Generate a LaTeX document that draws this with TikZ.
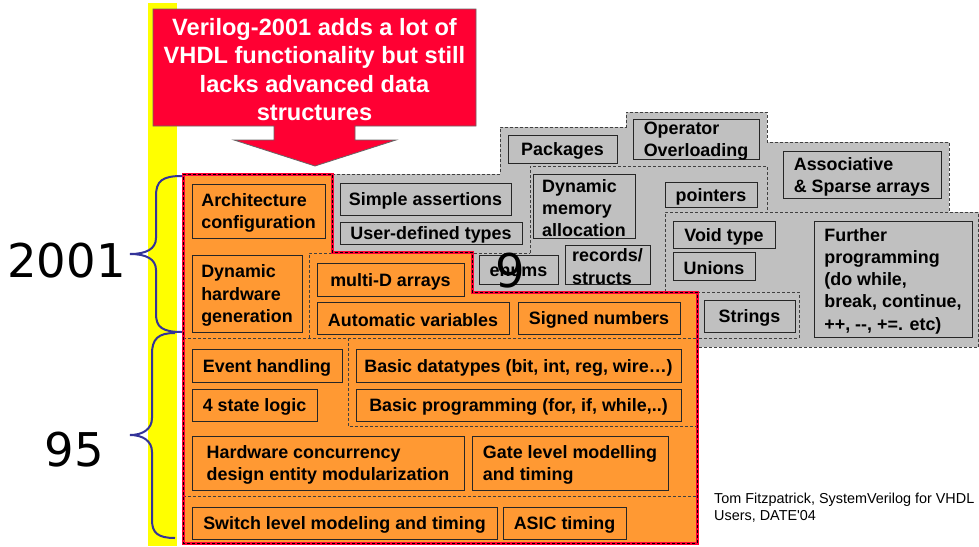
\documentclass[tikz,border=0pt]{standalone}
\usepackage{fontspec}
\setsansfont{Liberation Sans}
\newfontfamily\digitfont{DejaVu Sans}
\definecolor{boxorange}{HTML}{FF9933}
\definecolor{boxgray}{HTML}{C0C0C0}
\definecolor{calloutred}{HTML}{FF0033}
\definecolor{bracecol}{HTML}{333399}
\definecolor{stripyellow}{HTML}{FFFF00}

\tikzset{
  feat/.style={draw=black!85, line width=0.9pt, inner sep=0pt, align=left,
    font=\sffamily\bfseries\fontsize{17.9}{22.2}\selectfont, text=black},
  ofeat/.style={feat, fill=boxorange},
  gfeat/.style={feat, fill=boxgray},
  grp/.style={draw=black!75, line width=0.8pt, dash pattern=on 3pt off 2pt},
  curly/.style={draw=bracecol, line width=2pt},
  bignum/.style={font=\digitfont\fontsize{46.5}{46.5}\selectfont, anchor=base, inner sep=0pt},
}

% feature box from its corners: name, style, x1, y1, x2, y2, text
% (the frame is drawn separately so the label can sit a little lower)
\newcommand\featbox[7]{%
  \path[#2, fill, draw] (#3,#4) rectangle (#5,#6);
  \node[#2, draw=none, fill=none, anchor=center] (#1)
    at ({(#3+#5)/2},{(#4+#6)/2+2}) {#7};}

\begin{document}
\begin{tikzpicture}[x=1pt,y=-1pt]
\useasboundingbox (0,0) rectangle (979,546);
\fill[white] (0,0) rectangle (979,546);

% yellow strip
\fill[stripyellow] (148,3) rectangle (177,546);

% grey SystemVerilog area
\fill[boxgray] (332,174) -- (500,174) -- (500,127) -- (626,127) -- (626,112)
  -- (767,112) -- (767,142) -- (949,142) -- (949,212) -- (979,212)
  -- (979,347) -- (697,347) -- (697,292) -- (472,292) -- (472,252)
  -- (332,252) -- cycle;
\draw[grp] (332,174) -- (500,174) -- (500,127) -- (626,127) -- (626,112)
  -- (767,112) -- (767,142) -- (949,142) -- (949,212) -- (978.5,212)
  -- (978.5,347) -- (697,347);
\draw[grp] (530,253) -- (530,166) -- (767,166) -- (767,212);
\draw[grp] (665,292) -- (665,212) -- (949,212);
\draw[grp] (697,292) -- (799,292) -- (799,338) -- (697,338);

% orange Verilog area
\fill[boxorange] (183,174) -- (332,174) -- (332,252) -- (472,252) -- (472,292)
  -- (697,292) -- (697,543) -- (183,543) -- cycle;
\draw[grp] (309,338) -- (309,253) -- (530,253);
\draw[grp] (183,338) -- (697,338);
\draw[grp] (348,338) -- (348,426) -- (697,426);
\draw[grp] (183,496) -- (697,496);
\draw[calloutred, line width=3pt, line join=miter] (183,174) -- (332,174) -- (332,252)
  -- (472,252) -- (472,292) -- (697,292) -- (697,543) -- (183,543) -- cycle;
\draw[black, line width=0.6pt, dash pattern=on 3pt off 2pt] (183,174) -- (332,174)
  -- (332,252) -- (472,252) -- (472,292) -- (697,292) -- (697,543) -- (183,543) -- cycle;

% Verilog-2001 features
\featbox{arch}{ofeat}{192}{184}{325}{238}{Architecture\\configuration}
\featbox{dynhw}{ofeat}{192}{255}{302}{332}{Dynamic\\hardware\\generation}
\featbox{multid}{ofeat}{317}{263}{464}{296}{multi-D arrays}
\featbox{autovar}{ofeat}{317}{302}{509}{334}{Automatic variables}
\featbox{signed}{ofeat}{518}{302}{680}{334}{Signed numbers}

% Verilog-95 features
\featbox{event}{ofeat}{192}{349}{342}{382}{Event handling}
\featbox{fourstate}{ofeat}{192}{389}{317}{421}{4 state logic}
\featbox{basictypes}{ofeat}{356}{349}{681}{382}{Basic datatypes (bit, int, reg, wire\ldots)}
\featbox{basicprog}{ofeat}{356}{389}{681}{421}{Basic programming (for, if, while,..)}
\featbox{hwconc}{ofeat}{192}{436}{464}{490}{Hardware concurrency\\design entity modularization}
\featbox{gate}{ofeat}{472}{436}{668}{490}{Gate level modelling\\and timing}
\featbox{switch}{ofeat}{192}{507}{497}{539}{Switch level modeling and timing}
\featbox{asic}{ofeat}{503}{507}{626}{539}{ASIC timing}

% VHDL features
\featbox{assert}{gfeat}{340}{183}{511}{215}{Simple assertions}
\featbox{udt}{gfeat}{340}{222}{522}{244}{User-defined types}
\featbox{dynmem}{gfeat}{533}{174}{635}{238}{Dynamic\\memory\\allocation}
\featbox{enums}{gfeat}{479}{255}{558}{284}{enums}
\featbox{records}{gfeat}{565}{245}{650}{284}{records/\\structs}
\featbox{packages}{gfeat}{508}{135}{617}{163}{Packages}
\featbox{opover}{gfeat}{633}{119}{759}{159}{Operator\\Overloading}
\featbox{pointers}{gfeat}{665}{182}{757}{207}{pointers}
\featbox{assoc}{gfeat}{783}{151}{941}{198}{Associative\\\& Sparse arrays}
\featbox{void}{gfeat}{673}{221}{775}{248}{Void type}
\featbox{unions}{gfeat}{673}{252}{755}{280}{Unions}
\featbox{further}{gfeat}{814}{221}{972}{337}{Further\\programming\\(do while,\\break, continue,\\++, -{}-, +=. etc)}
\featbox{strings}{gfeat}{704}{300}{795}{332}{Strings}

% overlaid digit
\node[bignum] (nine) at (510,287) {9};

% callout with its arrow
\filldraw[fill=calloutred, draw=black!60, line width=0.8pt]
  (153,9) -- (476,9) -- (476,126) -- (355,126) -- (355,140) -- (396,140)
  -- (315,166) -- (234,140) -- (274,140) -- (274,126) -- (153,126) -- cycle;
\node[font=\sffamily\bfseries\fontsize{23.6}{28.5}\selectfont, text=white, align=center,
  inner sep=0pt] (callout) at (314.5,69.5) {Verilog-2001 adds a lot of\\VHDL functionality but still\\lacks advanced data\\structures};

% version braces
\node[bignum] (v2001) at (66.5,277) {2001};
\node[bignum] (v95) at (74.5,466) {95};
\draw[curly] (182,176) .. controls (162,176) and (156,181) .. (156,196) -- (156,238)
  .. controls (156,249) and (146,254) .. (130,254)
  .. controls (146,254) and (156,259) .. (156,270) -- (156,314)
  .. controls (156,327) and (162,332) .. (182,332);
\draw[curly] (175,333) .. controls (158,333) and (152,339) .. (152,354) -- (152,418)
  .. controls (152,429) and (143,435) .. (130,435)
  .. controls (143,435) and (152,441) .. (152,452) -- (152,520)
  .. controls (152,533) and (158,538) .. (175,538);

% source note
\node[font=\sffamily\fontsize{14.4}{17.3}\selectfont, align=left, anchor=base west,
  inner sep=0pt] (source) at (714,520.7) {Tom Fitzpatrick, SystemVerilog for VHDL\\Users, DATE\textquotesingle 04};
\end{tikzpicture}
\end{document}
